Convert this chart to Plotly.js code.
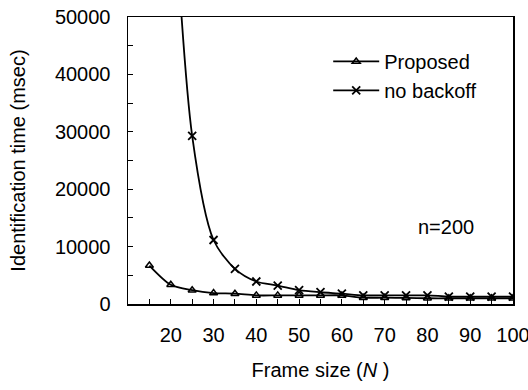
<!DOCTYPE html>
<html>
<head>
<meta charset="utf-8">
<script src="https://cdn.plot.ly/plotly-3.0.1.min.js"></script>
<style>html,body{margin:0;padding:0;background:#fff;}#chart{width:528px;height:390px;}</style>
</head>
<body>
<div id="chart"></div>
<script>
const proposedX = [15, 20, 25, 30, 35, 40, 45, 50, 55, 60, 65, 70, 75, 80, 85, 90, 95, 100];
const proposedY = [6700, 3350, 2400, 1900, 1800, 1500, 1500, 1500, 1500, 1500, 1100, 1100, 1050, 1000, 1000, 1000, 1000, 1000];
const noBackoffX = [20, 25, 30, 35, 40, 45, 50, 55, 60, 65, 70, 75, 80, 85, 90, 95, 100];
const noBackoffY = [80000, 29300, 11150, 6130, 3920, 3220, 2400, 2050, 1800, 1500, 1500, 1500, 1500, 1300, 1300, 1300, 1300];
const xTickVals = [20, 30, 40, 50, 60, 70, 80, 90, 100];
const xMinorTickVals = [15, 25, 35, 45, 55, 65, 75, 85, 95];
const yTickVals = [0, 10000, 20000, 30000, 40000, 50000];
const seriesNames = ["Proposed", "no backoff"];
const annotationText = "n=200";

const FONT = "Liberation Sans, Arial, sans-serif";
const FS = 20;

const traces = [
  {
    x: proposedX, y: proposedY, name: seriesNames[0], type: "scatter", mode: "lines+markers",
    legendgroup: "a",
    line: {color: "#000", width: 1.8, shape: "spline", smoothing: 0.8},
    marker: {symbol: "triangle-up-open", size: 7, color: "#000", line: {color: "#000", width: 1.5}}
  },
  {
    x: noBackoffX, y: noBackoffY, name: seriesNames[1], type: "scatter", mode: "lines+markers",
    legendgroup: "b",
    line: {color: "#000", width: 1.8, shape: "spline", smoothing: 0.8},
    marker: {symbol: "x-thin-open", size: 8, color: "#000", line: {color: "#000", width: 1.8}}
  }
];

const layout = {
  width: 528, height: 390,
  margin: {l: 128, r: 15, t: 17, b: 86},
  paper_bgcolor: "#fff", plot_bgcolor: "#fff",
  font: {family: FONT, size: FS, color: "#000"},
  showlegend: true,
  legend: {x: 0.52, y: 0.913, xanchor: "left", yanchor: "top", bgcolor: "rgba(0,0,0,0)",
           itemwidth: 46, font: {family: FONT, size: FS, color: "#000"}, tracegroupgap: 0},
  xaxis: {
    range: [10, 100], showgrid: false, zeroline: false,
    showline: true, linecolor: "#000", linewidth: 1.5, mirror: true,
    tickmode: "array", tickvals: xTickVals, ticks: "inside", ticklen: 5, tickwidth: 1, tickcolor: "#000",
    minor: {tickmode: "array", tickvals: xMinorTickVals, ticks: "inside", ticklen: 5, tickwidth: 1, tickcolor: "#000", showgrid: false},
    ticklabelstandoff: 12, ticklabeloverflow: "allow",
    tickfont: {family: FONT, size: FS, color: "#000"},
    title: {text: "Frame size (<i>N</i> )", font: {family: FONT, size: FS, color: "#000"}, standoff: 18}
  },
  yaxis: {
    range: [0, 50000], showgrid: false, zeroline: false,
    showline: true, linecolor: "#000", linewidth: 1.5, mirror: true,
    tickmode: "array", tickvals: yTickVals, tickformat: "d", ticks: "inside", ticklen: 5, tickwidth: 1, tickcolor: "#000",
    minor: {dtick: 5000, ticks: "inside", ticklen: 5, tickwidth: 1, tickcolor: "#000", showgrid: false},
    ticklabelstandoff: 12,
    tickfont: {family: FONT, size: FS, color: "#000"},
    title: {text: "Identification time (msec)", font: {family: FONT, size: FS, color: "#000"}, standoff: 24}
  },
  annotations: [
    {x: 0.826, y: 0.27, xref: "paper", yref: "paper", text: annotationText, showarrow: false,
     xanchor: "center", yanchor: "middle", font: {family: FONT, size: FS, color: "#000"}}
  ]
};

Plotly.newPlot("chart", traces, layout, {displayModeBar: false, staticPlot: true});
</script>
</body>
</html>
